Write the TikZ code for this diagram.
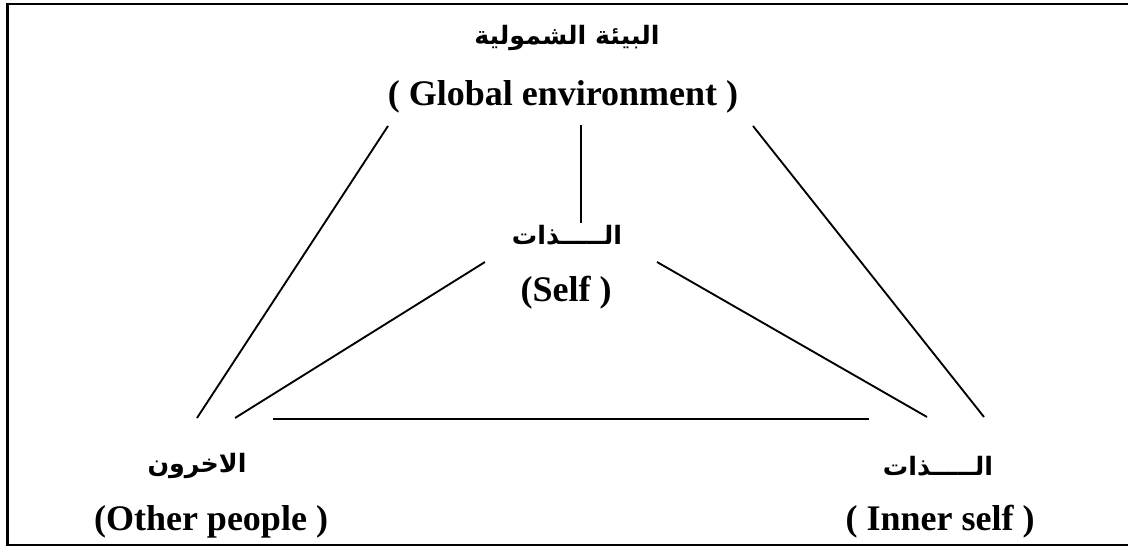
\documentclass[tikz,border=0pt]{standalone}
\usepackage{fontspec}
\setmainfont{Liberation Serif}
\newfontfamily\arabicfont[Script=Arabic]{DejaVu Sans}
\TeXXeTstate=1
\usetikzlibrary{positioning}

\begin{document}
\begin{tikzpicture}[x=0.75pt, y=-0.75pt,
    en/.style={font=\fontsize{27}{30}\selectfont\bfseries, inner sep=0pt},
    ar/.style={font=\arabicfont\fontsize{19}{22}\selectfont\bfseries, inner sep=0pt},
    link/.style={line width=1.4pt}]
    \useasboundingbox (0,0) rectangle (1128,548);
    % frame, open on the right
    \draw[line width=2pt] (1128,4) -- (7.5,4) -- (7.5,545) -- (1128,545);

    % the four corners
    \node[ar] (globAr) at (567,38) {\beginR البيئة الشمولية\endR};
    \node[en] (globEn) at (563,97) {( Global environment )};
    \node[ar] (selfAr) at (567,235) {\beginR الـــــذات\endR};
    \node[en] (selfEn) at (566,293) {(Self )};
    \node[ar] (otherAr) at (197,466) {\beginR الاخرون\endR};
    \node[en] (otherEn) at (211,522) {(Other people )};
    \node[ar] (innerAr) at (938,466) {\beginR الـــــذات\endR};
    \node[en] (innerEn) at (940,522) {( Inner self )};

    % free ends of the links
    \coordinate (g-l) at (388,126);
    \coordinate (g-m) at (581,125);
    \coordinate (g-r) at (753,126);
    \coordinate (s-t) at (581,223);
    \coordinate (s-l) at (485,262);
    \coordinate (s-r) at (657,262);
    \coordinate (o-g) at (197,418);
    \coordinate (o-s) at (235,418);
    \coordinate (o-i) at (273,419);
    \coordinate (i-o) at (869,419);
    \coordinate (i-s) at (927,417);
    \coordinate (i-g) at (984,417);

    % links
    \draw[link] (g-l) -- (o-g);
    \draw[link] (g-m) -- (s-t);
    \draw[link] (g-r) -- (i-g);
    \draw[link] (s-l) -- (o-s);
    \draw[link] (s-r) -- (i-s);
    \draw[link] (o-i) -- (i-o);
\end{tikzpicture}
\end{document}
